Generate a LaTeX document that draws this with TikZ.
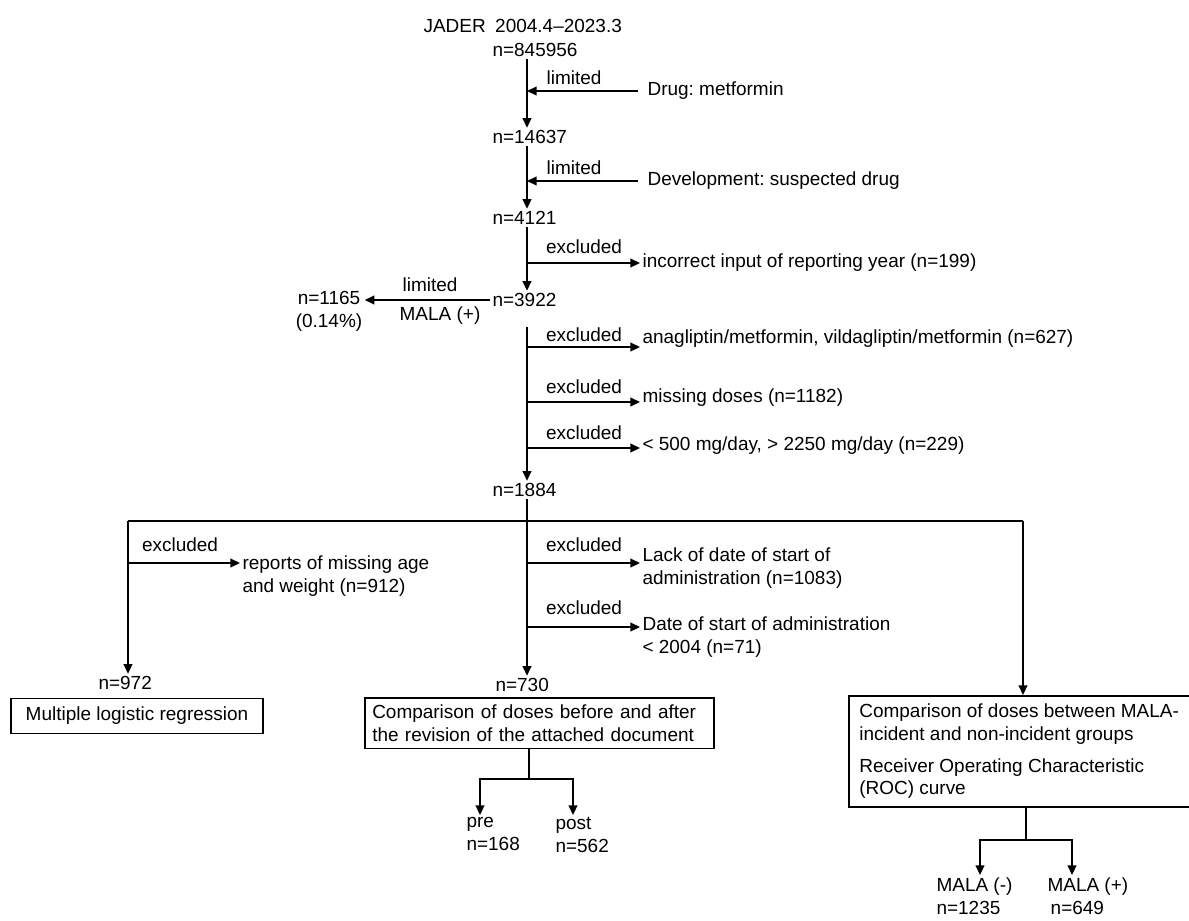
\documentclass[tikz,border=0pt]{standalone}
\usepackage{fontspec}
\setmainfont{Liberation Sans}
\frenchspacing
\usetikzlibrary{arrows.meta,positioning}

\tikzset{
  txt/.style={inner sep=1pt, font=\fontsize{10.8}{13}\selectfont},
  boxtxt/.style={txt, draw, align=left, inner xsep=6pt, inner ysep=4pt},
  arr/.style={-{Triangle[length=5.5pt,width=5pt]}},
}

\begin{document}
\begin{tikzpicture}[x=0.02cm,y=-0.02cm,line width=0.9pt]
  \useasboundingbox (0,0) rectangle (1189,920);
  \coordinate (m) at (527,0);

  % main column
  \node[txt,anchor=west] (src) at (421,26) {JADER\enspace 2004.4--2023.3};
  \node[txt,anchor=west] (n0) at (490,50) {n=845956};
  \node[txt,anchor=west] (n1) at (490,137) {n=14637};
  \node[txt,anchor=west] (n2) at (490,218) {n=4121};
  \node[txt,anchor=west] (n3) at (490,300) {n=3922};
  \node[txt,anchor=west] (n5) at (490,490) {n=1884};
  \node[txt,align=center] (n4) at (329,311) {n=1165\\(0.14\%)};

  \draw[arr] (n0.south -| m) -- (n1.north -| m);
  \draw[arr] (n1.south -| m) -- (n2.north -| m);
  \draw[arr] (n2.south -| m) -- (n3.north -| m);
  \draw[arr] (n3.west) -- (n3.west -| n4.east);
  \node[txt] (lim3) at (430,285) {limited};
  \node[txt] (mala) at (440,316) {MALA (+)};

  % limited
  \node[txt,anchor=west] (drug) at (645,91) {Drug: metformin};
  \node[txt,anchor=west] (dev) at (645,181) {Development: suspected drug};
  \draw[arr,shorten <=4pt] (drug.west) -- (drug.west -| m);
  \draw[arr,shorten <=4pt] (dev.west) -- (dev.west -| m);
  \node[txt] (lim1) at (574,78) {limited};
  \node[txt] (lim2) at (574,168) {limited};

  % excluded
  \coordinate (e9) at (527,327);
  \coordinate (e0) at (527,263);
  \coordinate (e1) at (527,347);
  \coordinate (e2) at (527,402);
  \coordinate (e3) at (527,448);
  \node[txt,anchor=west] (x0) at (640,263) {incorrect input of reporting year (n=199)};
  \node[txt,anchor=west] (x1) at (640,339) {anagliptin/metformin, vildagliptin/metformin (n=627)};
  \node[txt,anchor=west] (x2) at (640,398) {missing doses (n=1182)};
  \node[txt,anchor=west] (x3) at (640,446) {< 500 mg/day, > 2250 mg/day (n=229)};
  \foreach \e/\x in {e0/x0,e1/x1,e2/x2,e3/x3}
    \draw[arr] (\e) -- (\e -| \x.west);
  \node[txt] at (584,247) {excluded};
  \node[txt] at (584,335) {excluded};
  \node[txt] at (584,387) {excluded};
  \node[txt] at (584,433) {excluded};
  \draw (e9) -- (e3);
  \draw[arr] (e3) -- (n5.north -| m);

  % split
  \coordinate (bl) at (128,521);
  \coordinate (br) at (1023,521);
  \node[txt,anchor=west] (n972) at (96,683) {n=972};
  \node[txt,anchor=west] (n730) at (493,685) {n=730};
  \node[boxtxt,minimum width=5.04cm,minimum height=0.7cm] (box1) at (137,716) {Multiple logistic regression};
  \node[boxtxt,anchor=north east,text width=6.7cm,inner xsep=4pt] (box2) at (715,697)
    {Comparison of doses before and after\\the revision of the attached document};
  \node[boxtxt,anchor=north west,minimum width=6.78cm,minimum height=2.22cm] (box3) at (848,695)
    {Comparison of doses between MALA-\\incident and non-incident groups\\[5pt]Receiver Operating Characteristic\\(ROC) curve};
  \draw (bl) -- (br);
  \draw[arr] (bl) -- (bl |- n972.north);
  \draw[arr] (br) -- (br |- box3.north);
  \draw[arr] (n5.south -| m) -- (m |- n730.north);

  \coordinate (f1) at (128,563);
  \coordinate (f2) at (527,563);
  \coordinate (f3) at (527,627);
  \node[txt,anchor=west,align=left] (y1) at (240,576) {reports of missing age\\and weight (n=912)};
  \node[txt,anchor=west,align=left] (y2) at (640,568) {Lack of date of start of\\administration (n=1083)};
  \node[txt,anchor=west,align=left] (y3) at (640,637) {Date of start of administration\\< 2004 (n=71)};
  \foreach \f/\y in {f1/y1,f2/y2,f3/y3}
    \draw[arr] (\f) -- (\f -| \y.west);
  \node[txt] at (180,545) {excluded};
  \node[txt] at (584,545) {excluded};
  \node[txt] at (584,608) {excluded};

  % pre / post
  \coordinate (p0) at (529,779);
  \coordinate (pl) at (480,779);
  \coordinate (pr) at (573,779);
  \node[txt,anchor=north west,align=left] (pre) at (464,815) {pre\\n=168};
  \node[txt,anchor=north west,align=left] (post) at (553,815) {post\\n=562};
  \draw (box2.south -| p0) -- (p0);
  \draw[arr] (pl) -- (pr) -- (pr |- post.north);
  \draw[arr] (pr) -- (pl) -- (pl |- pre.north);

  % MALA -/+
  \coordinate (q0) at (1026,840);
  \coordinate (ql) at (980,840);
  \coordinate (qr) at (1072,840);
  \node[txt,anchor=north west,align=left] (mneg) at (934,875) {MALA (-)\\n=1235};
  \node[txt,anchor=north west,align=left] (mpos) at (1045,875) {MALA (+)\\\,n=649};
  \draw (box3.south -| q0) -- (q0);
  \draw[arr] (ql) -- (qr) -- (qr |- mpos.north);
  \draw[arr] (qr) -- (ql) -- (ql |- mneg.north);
\end{tikzpicture}
\end{document}
